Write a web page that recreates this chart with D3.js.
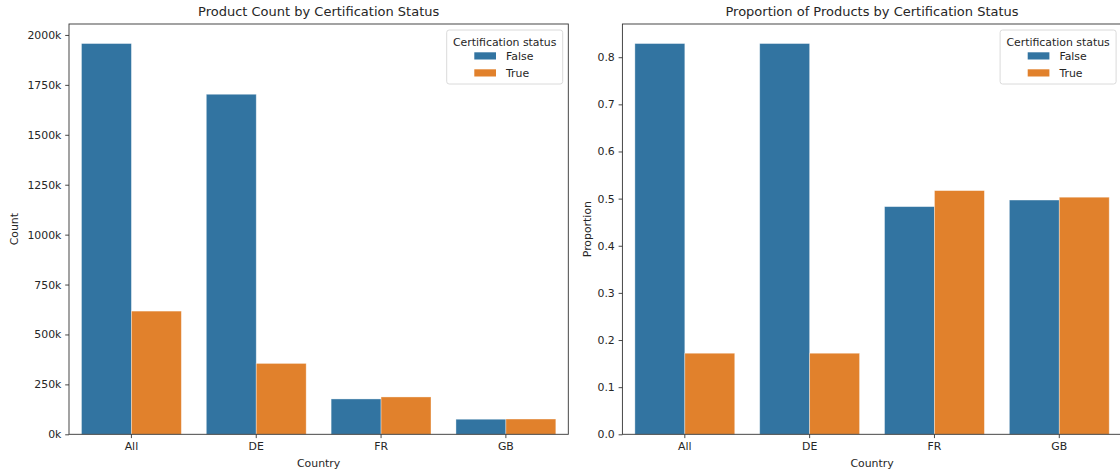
<!DOCTYPE html>
<html>
<head>
<meta charset="utf-8">
<script src="https://cdn.jsdelivr.net/npm/d3@7"></script>
<style>
  body { margin: 0; background: #fff; }
  svg { display: block; font-family: "DejaVu Sans", sans-serif; }
</style>
</head>
<body>
<div id="chart"></div>
<script>
var countries = ["All", "DE", "FR", "GB"];
var statuses = ["False", "True"];
var countFalse = [1957000, 1703000, 177000, 75500];
var countTrue = [617000, 355000, 187000, 76500];
var propFalse = [0.829, 0.829, 0.483, 0.497];
var propTrue = [0.172, 0.172, 0.517, 0.503];
var leftTicks = [0, 250000, 500000, 750000, 1000000, 1250000, 1500000, 1750000, 2000000];
var rightTicks = [0, 0.1, 0.2, 0.3, 0.4, 0.5, 0.6, 0.7, 0.8];

var colour = d3.scaleOrdinal().domain(statuses).range(["#3274a1", "#e1812c"]);

var width = 1120, height = 473;
var svg = d3.select("#chart").append("svg")
    .attr("width", width)
    .attr("height", height);

function panel(opts) {
    var x0 = opts.left, x1 = opts.left + 499.3, top = 24, bottom = 434.3;
    var g = svg.append("g");

    var x = d3.scaleBand().domain(countries).range([x0, x1]);
    var xh = d3.scaleBand().domain(statuses).range([0.1 * x.bandwidth(), 0.9 * x.bandwidth()]);
    var maxVal = d3.max(opts.falseVals.concat(opts.trueVals));
    var y = d3.scaleLinear().domain([0, maxVal * 1.05]).range([bottom, top]);

    var rows = [];
    countries.forEach(function (c, i) {
        rows.push({ country: c, status: "False", value: opts.falseVals[i] });
        rows.push({ country: c, status: "True", value: opts.trueVals[i] });
    });

    g.selectAll("rect.bar")
      .data(rows)
      .enter()
        .append("rect")
        .attr("class", "bar")
        .attr("x", function (d) { return x(d.country) + xh(d.status); })
        .attr("width", xh.bandwidth())
        .attr("y", function (d) { return y(d.value); })
        .attr("height", function (d) { return bottom - y(d.value); })
        .style("fill", function (d) { return colour(d.status); })
        .style("stroke", "rgba(255,255,255,0.45)")
        .style("stroke-width", 0.8);

    // axes
    var yAxis = d3.axisLeft(y).tickValues(opts.ticks).tickSize(3.8).tickPadding(3.8)
        .tickFormat(opts.format);
    var ya = g.append("g").attr("transform", "translate(" + x0 + ",0)").call(yAxis);
    var xAxis = d3.axisBottom(x).tickSize(3.8).tickPadding(3.8);
    var xa = g.append("g").attr("transform", "translate(0," + bottom + ")").call(xAxis);
    [ya, xa].forEach(function (a) {
        a.select(".domain").remove();
        a.selectAll("line").attr("stroke", "#333").attr("stroke-width", 0.9);
        a.selectAll("text").attr("fill", "#262626").style("font-size", "10.9px")
            .style("font-family", "DejaVu Sans, sans-serif");
    });

    // spines
    g.append("rect")
        .attr("x", x0).attr("y", top)
        .attr("width", x1 - x0).attr("height", bottom - top)
        .attr("fill", "none").attr("stroke", "#333").attr("stroke-width", 0.9);

    g.append("text")
        .attr("x", (x0 + x1) / 2).attr("y", 16)
        .attr("text-anchor", "middle")
        .style("font-size", "13px").attr("fill", "#262626")
        .text(opts.title);

    g.append("text")
        .attr("x", (x0 + x1) / 2).attr("y", 467)
        .attr("text-anchor", "middle")
        .style("font-size", "10.9px").attr("fill", "#262626")
        .text("Country");

    g.append("text")
        .attr("transform", "translate(" + opts.ylabelX + "," + ((top + bottom) / 2) + ") rotate(-90)")
        .attr("text-anchor", "middle")
        .style("font-size", "10.9px").attr("fill", "#262626")
        .text(opts.ylabel);

    // legend
    var lx = x1 - 121.6, ly = 30;
    var lg = g.append("g").attr("transform", "translate(" + lx + "," + ly + ")");
    lg.append("rect")
        .attr("width", 116).attr("height", 54).attr("rx", 2.5)
        .attr("fill", "rgba(255,255,255,0.8)")
        .attr("stroke", "#d6d6d6").attr("stroke-width", 0.9);
    lg.append("text")
        .attr("x", 58).attr("y", 16)
        .attr("text-anchor", "middle")
        .style("font-size", "10.9px").attr("fill", "#262626")
        .text("Certification status");
    statuses.forEach(function (s, i) {
        lg.append("rect")
            .attr("x", 27.6).attr("y", 22.3 + i * 17)
            .attr("width", 21.7).attr("height", 7.2)
            .attr("fill", colour(s));
        lg.append("text")
            .attr("x", 59.3).attr("y", 29.8 + i * 17)
            .style("font-size", "10.9px").attr("fill", "#262626")
            .text(s);
    });
}

panel({
    left: 69, falseVals: countFalse, trueVals: countTrue, ticks: leftTicks,
    format: function (v) { return (v / 1000) + "k"; },
    title: "Product Count by Certification Status", ylabel: "Count", ylabelX: 18
});
panel({
    left: 622.4, falseVals: propFalse, trueVals: propTrue, ticks: rightTicks,
    format: d3.format(".1f"),
    title: "Proportion of Products by Certification Status", ylabel: "Proportion", ylabelX: 591
});
</script>
</body>
</html>
